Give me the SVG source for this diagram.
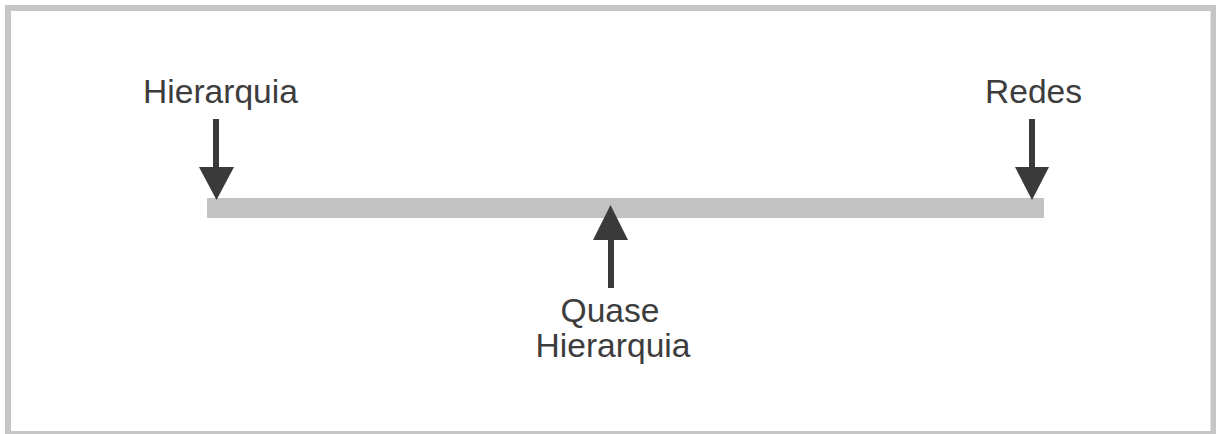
<svg xmlns="http://www.w3.org/2000/svg" width="1216" height="434" viewBox="0 0 1216 434">
  <style>
    .label { font-family: "Liberation Sans", Arial, sans-serif; font-size: 33.6px; fill: #3d3d3d; }
    .shaft { stroke: #3a3a3a; stroke-width: 6; fill: none; }
    .head { fill: #3a3a3a; }
  </style>
  <rect x="0" y="0" width="1216" height="434" fill="#ffffff"/>
  <!-- outer frame -->
  <rect x="8" y="8" width="1205.5" height="426" fill="none" stroke="#c6c6c6" stroke-width="6"/>

  <!-- scale bar -->
  <g id="scale">
    <rect x="207" y="198" width="837" height="20" fill="#c2c2c2"/>
  </g>

  <g id="hierarquia">
    <text class="label" x="143" y="103">Hierarquia</text>
  </g>
  <g id="redes">
    <text class="label" x="985" y="103">Redes</text>
  </g>
  <g id="quase-hierarquia">
    <text class="label" x="610" y="322" text-anchor="middle">Quase</text>
    <text class="label" x="613" y="357" text-anchor="middle">Hierarquia</text>
  </g>

  <g id="connectors">
    <line class="shaft" x1="216" y1="119" x2="216" y2="170"/>
    <polygon class="head" points="199,167 234,167 216.5,200"/>
    <line class="shaft" x1="1032" y1="119" x2="1032" y2="170"/>
    <polygon class="head" points="1015,167 1049,167 1032,200"/>
    <line class="shaft" x1="611" y1="237" x2="611" y2="288"/>
    <polygon class="head" points="593,240 628,240 610.5,205"/>
  </g>
</svg>
